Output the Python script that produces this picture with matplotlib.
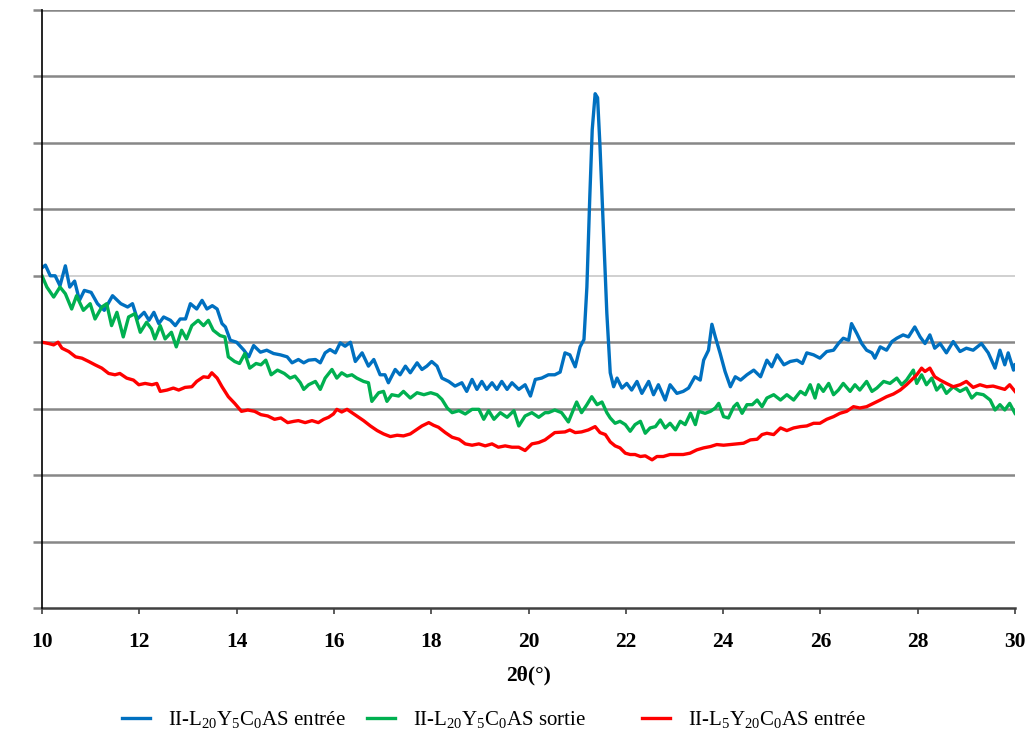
import matplotlib
matplotlib.use("Agg")
import matplotlib.pyplot as plt

plt.rcParams["font.family"] = ["Liberation Serif", "DejaVu Serif"]
plt.rcParams["mathtext.fontset"] = "custom"
plt.rcParams["mathtext.rm"] = "Liberation Serif"
plt.rcParams["mathtext.it"] = "Liberation Serif:italic"
plt.rcParams["mathtext.bf"] = "Liberation Serif:bold"

# blue: II-L20Y5C0AS entrée
blue_x = [10.0, 10.07, 10.17, 10.27, 10.37, 10.48, 10.57, 10.67, 10.77, 10.87,
          11.01, 11.14, 11.28, 11.45, 11.62, 11.76, 11.86, 11.96, 12.1, 12.2,
          12.3, 12.4, 12.5, 12.64, 12.74, 12.84, 12.95, 13.05, 13.18, 13.29,
          13.39, 13.5, 13.6, 13.7, 13.77, 13.87, 14.0, 14.15, 14.25, 14.35,
          14.49, 14.62, 14.76, 14.9, 15.04, 15.14, 15.27, 15.38, 15.48, 15.62,
          15.72, 15.82, 15.92, 16.03, 16.13, 16.23, 16.34, 16.44, 16.58, 16.71,
          16.82, 16.95, 17.05, 17.12, 17.26, 17.36, 17.47, 17.57, 17.71, 17.81,
          17.91, 18.01, 18.12, 18.22, 18.36, 18.49, 18.63, 18.73, 18.84, 18.94,
          19.04, 19.14, 19.25, 19.35, 19.45, 19.56, 19.66, 19.8, 19.93, 20.04,
          20.14, 20.27, 20.41, 20.54, 20.65, 20.75, 20.85, 20.96, 21.06, 21.14,
          21.2, 21.26, 21.31, 21.37, 21.42, 21.47, 21.54, 21.61, 21.68, 21.75,
          21.82, 21.92, 22.02, 22.12, 22.23, 22.33, 22.47, 22.57, 22.67, 22.81,
          22.91, 23.05, 23.18, 23.29, 23.42, 23.53, 23.6, 23.7, 23.77, 23.84,
          23.94, 24.04, 24.15, 24.25, 24.36, 24.49, 24.63, 24.77, 24.9, 25.0,
          25.11, 25.25, 25.38, 25.52, 25.63, 25.72, 25.86, 25.99, 26.13, 26.27,
          26.37, 26.47, 26.58, 26.64, 26.75, 26.85, 26.95, 27.06, 27.12, 27.23,
          27.36, 27.47, 27.57, 27.7, 27.81, 27.94, 28.05, 28.15, 28.25, 28.35,
          28.46, 28.59, 28.73, 28.87, 29.0, 29.14, 29.31, 29.45, 29.59, 29.69,
          29.79, 29.86, 29.97, 30.0]
blue_y = [512, 516, 500, 500, 485, 515, 483, 492, 463, 478,
          475, 458, 448, 470, 458, 453, 458, 435, 445, 433,
          445, 428, 438, 433, 425, 435, 435, 458, 450, 463,
          450, 455, 450, 428, 423, 403, 400, 388, 378, 395,
          385, 388, 383, 381, 378, 369, 374, 369, 373, 374,
          369, 384, 389, 384, 399, 394, 400, 371, 384, 364,
          374, 351, 351, 339, 359, 351, 364, 354, 369, 359,
          364, 371, 364, 346, 341, 334, 339, 326, 344, 329,
          341, 329, 339, 329, 341, 329, 339, 329, 336, 319,
          344, 346, 351, 351, 355, 384, 381, 363, 393, 404,
          483, 619, 720, 774, 768, 694, 569, 444, 354, 333,
          346, 331, 338, 328, 341, 323, 341, 321, 336, 313,
          336, 323, 326, 331, 348, 343, 373, 388, 427, 408,
          383, 356, 333, 348, 343, 351, 358, 348, 373, 363,
          381, 366, 371, 373, 368, 384, 381, 376, 386, 388,
          398, 406, 403, 428, 413, 398, 388, 384, 376, 393,
          388, 401, 406, 411, 408, 423, 408, 398, 411, 391,
          398, 384, 401, 386, 391, 388, 398, 384, 361, 388,
          366, 384, 358, 366]

# green: II-L20Y5C0AS sortie
green_x = [10.0, 10.1, 10.24, 10.37, 10.48, 10.61, 10.71, 10.85, 10.99, 11.09,
           11.23, 11.33, 11.43, 11.54, 11.67, 11.78, 11.91, 12.02, 12.15, 12.25,
           12.32, 12.43, 12.53, 12.66, 12.76, 12.87, 12.97, 13.08, 13.21, 13.32,
           13.42, 13.52, 13.66, 13.76, 13.83, 13.96, 14.06, 14.17, 14.27, 14.4,
           14.5, 14.6, 14.71, 14.84, 14.98, 15.1, 15.2, 15.31, 15.38, 15.48,
           15.62, 15.72, 15.82, 15.96, 16.06, 16.16, 16.27, 16.37, 16.47, 16.61,
           16.71, 16.78, 16.92, 17.02, 17.09, 17.19, 17.33, 17.43, 17.57, 17.71,
           17.85, 17.99, 18.12, 18.22, 18.33, 18.43, 18.57, 18.7, 18.84, 18.98,
           19.08, 19.18, 19.29, 19.42, 19.56, 19.7, 19.8, 19.93, 20.07, 20.21,
           20.34, 20.41, 20.54, 20.68, 20.82, 20.92, 20.99, 21.09, 21.2, 21.3,
           21.41, 21.51, 21.61, 21.68, 21.78, 21.88, 21.99, 22.09, 22.19, 22.3,
           22.4, 22.5, 22.61, 22.71, 22.81, 22.91, 23.02, 23.12, 23.22, 23.33,
           23.43, 23.5, 23.63, 23.74, 23.84, 23.91, 24.01, 24.11, 24.22, 24.29,
           24.39, 24.49, 24.6, 24.7, 24.8, 24.9, 25.04, 25.18, 25.31, 25.45,
           25.59, 25.69, 25.79, 25.89, 25.96, 26.06, 26.17, 26.27, 26.37, 26.47,
           26.61, 26.71, 26.81, 26.95, 27.06, 27.16, 27.3, 27.43, 27.57, 27.67,
           27.77, 27.91, 27.98, 28.08, 28.18, 28.29, 28.39, 28.49, 28.59, 28.73,
           28.87, 29.0, 29.11, 29.21, 29.35, 29.49, 29.59, 29.69, 29.79, 29.89,
           30.0]
green_y = [500, 483, 468, 483, 473, 450, 470, 448, 458, 435,
           453, 458, 425, 445, 408, 438, 443, 415, 430, 420,
           405, 425, 405, 415, 393, 418, 405, 425, 433, 425,
           433, 418, 410, 408, 378, 371, 368, 383, 361, 368,
           366, 373, 351, 358, 353, 346, 349, 339, 329, 336,
           341, 329, 346, 359, 346, 354, 349, 351, 346, 341,
           339, 311, 324, 326, 311, 321, 319, 326, 316, 324,
           321, 324, 321, 314, 301, 294, 297, 292, 299, 299,
           284, 297, 284, 294, 287, 297, 274, 289, 294, 287,
           294, 294, 298, 294, 280, 298, 310, 294, 306, 318,
           306, 310, 294, 286, 278, 281, 276, 266, 276, 281,
           263, 271, 273, 283, 271, 278, 268, 281, 276, 293,
           276, 296, 293, 296, 301, 308, 288, 286, 303, 308,
           293, 306, 306, 313, 303, 316, 321, 313, 321, 313,
           326, 321, 336, 316, 336, 326, 338, 321, 328, 338,
           326, 336, 328, 341, 326, 331, 341, 338, 346, 336,
           343, 358, 338, 351, 336, 346, 328, 336, 323, 333,
           326, 331, 316, 323, 321, 313, 298, 306, 298, 308,
           293]

# red: II-L5Y20C0AS entrée
red_x = [10.0, 10.14, 10.24, 10.33, 10.41, 10.55, 10.69, 10.82, 10.96, 11.09,
         11.23, 11.37, 11.5, 11.6, 11.74, 11.88, 11.99, 12.12, 12.26, 12.36,
         12.43, 12.57, 12.7, 12.81, 12.94, 13.08, 13.18, 13.32, 13.42, 13.49,
         13.6, 13.7, 13.83, 13.96, 14.1, 14.23, 14.37, 14.5, 14.64, 14.78,
         14.91, 15.05, 15.18, 15.27, 15.41, 15.55, 15.68, 15.79, 15.89, 15.99,
         16.06, 16.16, 16.27, 16.37, 16.47, 16.61, 16.75, 16.89, 17.02, 17.16,
         17.3, 17.43, 17.57, 17.67, 17.81, 17.95, 18.05, 18.15, 18.29, 18.43,
         18.57, 18.7, 18.84, 18.98, 19.11, 19.25, 19.38, 19.52, 19.66, 19.8,
         19.93, 20.07, 20.21, 20.34, 20.54, 20.75, 20.85, 20.96, 21.09, 21.23,
         21.37, 21.47, 21.58, 21.68, 21.78, 21.88, 21.99, 22.09, 22.19, 22.3,
         22.4, 22.54, 22.64, 22.77, 22.91, 23.05, 23.18, 23.32, 23.46, 23.6,
         23.74, 23.87, 24.01, 24.15, 24.29, 24.42, 24.56, 24.7, 24.8, 24.9,
         25.04, 25.18, 25.31, 25.45, 25.59, 25.72, 25.86, 25.99, 26.13, 26.27,
         26.4, 26.54, 26.68, 26.81, 26.95, 27.09, 27.23, 27.36, 27.5, 27.64,
         27.77, 27.87, 27.98, 28.08, 28.15, 28.25, 28.35, 28.46, 28.59, 28.73,
         28.87, 29.0, 29.14, 29.28, 29.42, 29.55, 29.69, 29.79, 29.89, 30.0]
red_y = [400, 398, 396, 400, 391, 386, 378, 376, 371, 366,
         361, 353, 351, 353, 346, 343, 336, 338, 336, 338,
         326, 328, 331, 328, 332, 333, 341, 348, 347, 354,
         346, 333, 318, 308, 296, 298, 296, 291, 289, 284,
         286, 279, 281, 282, 279, 282, 279, 284, 287, 292,
         299, 295, 299, 294, 289, 282, 274, 267, 262, 258,
         260, 259, 262, 267, 274, 279, 275, 272, 264, 257,
         254, 247, 245, 247, 244, 247, 242, 244, 242, 242,
         237, 247, 249, 253, 264, 265, 268, 264, 265, 268,
         273, 264, 261, 250, 244, 241, 233, 231, 231, 228,
         229, 223, 228, 228, 231, 231, 231, 233, 238, 241,
         243, 246, 245, 246, 247, 248, 253, 254, 261, 263,
         261, 271, 267, 271, 273, 274, 278, 278, 284, 288,
         293, 296, 303, 301, 303, 308, 313, 318, 322, 328,
         336, 343, 351, 361, 356, 361, 348, 343, 338, 333,
         336, 341, 332, 336, 333, 334, 331, 329, 336, 326]

x_ticks = [10, 12, 14, 16, 18, 20, 22, 24, 26, 28, 30]
y_grid = [0, 100, 200, 300, 400, 500, 600, 700, 800, 900]

labels = [r"II-L$_{\mathrm{20}}$Y$_{\mathrm{5}}$C$_{\mathrm{0}}$AS entrée",
          r"II-L$_{\mathrm{20}}$Y$_{\mathrm{5}}$C$_{\mathrm{0}}$AS sortie",
          r"II-L$_{\mathrm{5}}$Y$_{\mathrm{20}}$C$_{\mathrm{0}}$AS entrée"]
colors = ["#0070C0", "#00B050", "#FF0000"]
# left pixel of each legend key in the original layout
legend_left_px = [122, 367, 642]

fig = plt.figure(figsize=(10.32, 7.33), dpi=100)
ax = fig.add_axes([42 / 1032, 1 - 608 / 733, (1015 - 42) / 1032, (608 - 10) / 733])

lines = []
for xs, ys, lbl, col in zip([blue_x, green_x, red_x], [blue_y, green_y, red_y],
                            labels, colors):
    ln, = ax.plot(xs, ys, color=col, lw=2.4, label=lbl, solid_joinstyle="round")
    lines.append(ln)

ax.set_xlim(10, 30)
ax.set_ylim(0, 900)
ax.set_xticks(x_ticks)
ax.set_yticks(y_grid)
ax.set_yticklabels([])
ax.set_xticklabels([str(t) for t in x_ticks], fontsize=15.5, fontweight="bold")

# horizontal grid, one lighter line like the original
for yv in y_grid[1:]:
    c = "#c8c8c8" if yv == 500 else "#878787"
    w = 1.2 if yv == 500 else 1.8
    ax.axhline(yv, color=c, lw=w, zorder=0)

ax.spines["top"].set_visible(False)
ax.spines["right"].set_visible(False)
ax.spines["left"].set_color("black")
ax.spines["left"].set_linewidth(1.2)
ax.spines["bottom"].set_color("#404040")
ax.spines["bottom"].set_linewidth(1.8)
ax.spines["left"].set_zorder(3)

ax.tick_params(axis="y", direction="out", length=6.5, width=1.8, colors="#878787")
ax.tick_params(axis="x", direction="out", length=4, width=1.2, color="#404040",
               pad=13, labelcolor="black")

ax.set_xlabel("2θ(°)", fontsize=15.5, fontweight="bold", labelpad=10)

for ln, lbl, left in zip(lines, labels, legend_left_px):
    fig.legend([ln], [lbl], loc="center left", bbox_to_anchor=(left / 1032, 0.018),
               frameon=False, fontsize=15, handlelength=1.35, handletextpad=0.85,
               borderpad=0, borderaxespad=0)

fig.savefig("out.png", dpi=100)
